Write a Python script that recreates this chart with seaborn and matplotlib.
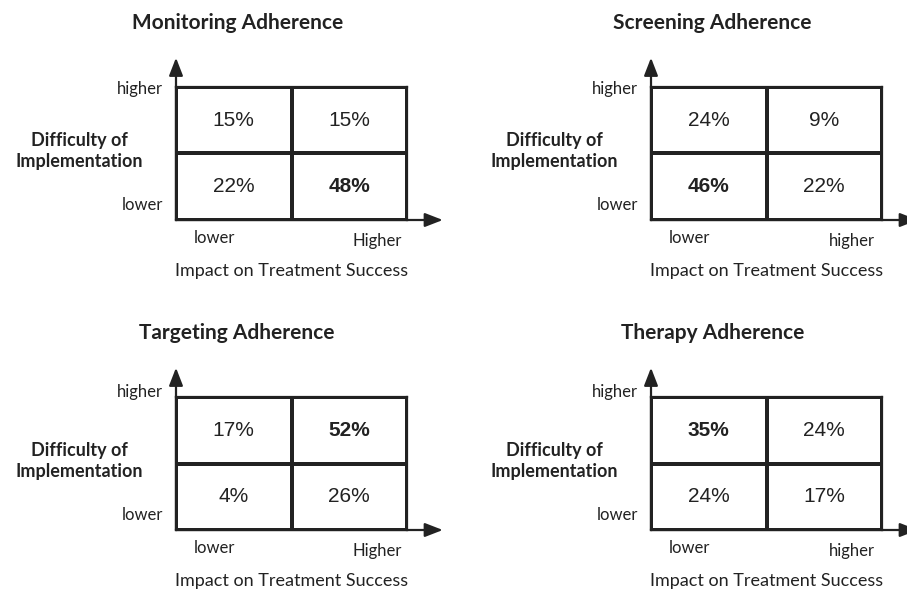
import numpy as np
import matplotlib
matplotlib.use('Agg')
import matplotlib.pyplot as plt
from matplotlib.colors import ListedColormap
import seaborn as sns

# Datos: porcentaje por celda, filas = dificultad (higher, lower), columnas = impacto (lower, higher)
titulos = ['Monitoring Adherence', 'Screening Adherence', 'Targeting Adherence', 'Therapy Adherence']
monitoring = [[15, 15], [22, 48]]
screening = [[24, 9], [46, 22]]
targeting = [[17, 52], [4, 26]]
therapy = [[35, 24], [24, 17]]
valores = [monitoring, screening, targeting, therapy]
etiquetas_x = [['lower', 'Higher'], ['lower', 'higher'], ['lower', 'Higher'], ['lower', 'higher']]
etiquetas_y = ['higher', 'lower']
titulo_y = 'Difficulty of\nImplementation'
titulo_x = 'Impact on Treatment Success'

sns.set_theme(style='white')
plt.rcParams['font.family'] = ['Lato', 'DejaVu Sans']

color_linea = '#222222'
color_texto = '#222222'
fig = plt.figure(figsize=(9.07, 5.89), dpi=100)

# posiciones de cada caja en fracción de figura
ancho, alto = 231 / 907, 133 / 589
posiciones = [(176 / 907, 1 - 220 / 589), (651 / 907, 1 - 220 / 589),
              (176 / 907, 1 - 530 / 589), (651 / 907, 1 - 530 / 589)]
y_higher = [0.985, 0.985, 1.04, 1.04]

for i in range(4):
    ax = fig.add_axes([posiciones[i][0], posiciones[i][1], ancho, alto])
    datos = np.array(valores[i])
    textos = np.array([[f'{v}%' for v in fila] for fila in datos])
    sns.heatmap(datos, ax=ax, cmap=ListedColormap(['white']), cbar=False,
                annot=textos, fmt='', linewidths=1.6, linecolor=color_linea,
                annot_kws={'fontsize': 15, 'color': color_texto, 'family': 'Liberation Sans'})
    # negrita para el valor más alto
    maximo = f'{datos.max()}%'
    for t in ax.texts:
        if t.get_text() == maximo:
            t.set_fontweight('bold')

    for lado in ax.spines.values():
        lado.set_visible(True)
        lado.set_color(color_linea)
        lado.set_linewidth(1.6)
    ax.set_xticks([])
    ax.set_yticks([])

    # flechas de los ejes
    ax.annotate('', xy=(1.155, 0), xytext=(0, 0), xycoords='axes fraction',
                arrowprops=dict(arrowstyle='-|>,head_length=0.9,head_width=0.35',
                                color=color_linea, lw=1.6, shrinkA=0, shrinkB=0),
                annotation_clip=False)
    ax.annotate('', xy=(0, 1.22), xytext=(0, 0), xycoords='axes fraction',
                arrowprops=dict(arrowstyle='-|>,head_length=0.9,head_width=0.35',
                                color=color_linea, lw=1.6, shrinkA=0, shrinkB=0),
                annotation_clip=False)

    ax.text(0.265, 1.48, titulos[i], transform=ax.transAxes, ha='center', va='center',
            fontsize=15, fontweight='bold', color=color_texto)
    ax.text(-0.42, 0.52, titulo_y, transform=ax.transAxes, ha='center', va='center',
            fontsize=13, fontweight='bold', color=color_texto, linespacing=1.3)
    ax.text(-0.055, y_higher[i], etiquetas_y[0], transform=ax.transAxes, ha='right',
            va='center', fontsize=12, color=color_texto)
    ax.text(-0.055, 0.11, etiquetas_y[1], transform=ax.transAxes, ha='right',
            va='center', fontsize=12, color=color_texto)
    ax.text(0.165, -0.135, etiquetas_x[i][0], transform=ax.transAxes, ha='center',
            va='center', fontsize=12, color=color_texto)
    ax.text(0.87, -0.155, etiquetas_x[i][1], transform=ax.transAxes, ha='center',
            va='center', fontsize=12, color=color_texto)
    ax.text(0.5, -0.38, titulo_x, transform=ax.transAxes, ha='center', va='center',
            fontsize=13, color=color_texto)

fig.savefig('out.png', dpi=100)
